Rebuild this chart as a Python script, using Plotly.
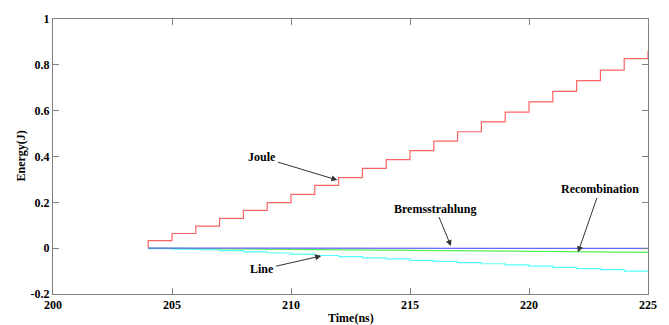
import plotly.graph_objects as go

time_ns = [204, 205, 206, 207, 208, 209, 210, 211, 212, 213, 214, 215,
           216, 217, 218, 219, 220, 221, 222, 223, 224, 225]
joule = [0.033, 0.064, 0.096, 0.130, 0.165, 0.199, 0.235, 0.274, 0.308, 0.348, 0.386,
         0.426, 0.467, 0.508, 0.551, 0.594, 0.638, 0.684, 0.731, 0.777, 0.827, 0.860]
line_rad = [-0.002, -0.004, -0.007, -0.011, -0.016, -0.021, -0.026, -0.032, -0.037, -0.042,
            -0.047, -0.053, -0.058, -0.063, -0.068, -0.073, -0.078, -0.084, -0.089, -0.094,
            -0.100, -0.104]
bremsstrahlung = [0.000, 0.000, 0.000, 0.000, 0.000, 0.000, -0.001, -0.001, -0.001, -0.001,
                  -0.001, -0.001, -0.001, -0.001, -0.001, -0.001, -0.001, -0.001, -0.001,
                  -0.001, -0.001, -0.001]
recombination = [0.000, -0.001, -0.002, -0.003, -0.003, -0.004, -0.005, -0.006, -0.007, -0.008,
                 -0.008, -0.009, -0.010, -0.011, -0.012, -0.013, -0.013, -0.014, -0.015,
                 -0.016, -0.017, -0.018]

x_ticks = [200, 205, 210, 215, 220, 225]
y_ticks = [-0.2, 0, 0.2, 0.4, 0.6, 0.8, 1]
y_tick_text = ["-0.2", "0", "0.2", "0.4", "0.6", "0.8", "1"]

FONT = "Liberation Serif, Times New Roman, serif"

fig = go.Figure()
start_x = [time_ns[0]] + time_ns
fig.add_trace(go.Scatter(x=start_x, y=[0] + joule, mode="lines", line_shape="hv",
                         line=dict(color="#ff6464", width=1.2), name="Joule"))
fig.add_trace(go.Scatter(x=start_x, y=[0] + line_rad, mode="lines", line_shape="hv",
                         line=dict(color="#55ffff", width=1.2), name="Line"))
fig.add_trace(go.Scatter(x=start_x, y=[0] + recombination, mode="lines",
                         line=dict(color="#55ee55", width=1.2), name="Recombination"))
fig.add_trace(go.Scatter(x=start_x, y=[0] + bremsstrahlung, mode="lines",
                         line=dict(color="#6464ff", width=1.2), name="Bremsstrahlung"))

ann_font = dict(family=FONT, size=12, color="black", weight="bold")
annots = [
    ("Joule", 211.95, 0.297, 208.8, 0.396),
    ("Line", 211.27, -0.034, 208.8, -0.092),
    ("Bremsstrahlung", 216.72, 0.009, 216.07, 0.173),
    ("Recombination", 222.06, -0.018, 222.98, 0.257),
]
for text, x, y, ax, ay in annots:
    fig.add_annotation(x=x, y=y, ax=ax, ay=ay, xref="x", yref="y", axref="x", ayref="y",
                       text=text, showarrow=True, arrowhead=2, arrowsize=1.2,
                       arrowwidth=1, arrowcolor="#333333", font=ann_font)

fig.add_annotation(text="Time(ns)", xref="paper", yref="paper", x=0.5, y=0,
                   yshift=-24, yanchor="middle", showarrow=False, font=ann_font)
fig.add_annotation(text="Energy(J)", xref="paper", yref="paper", x=0, y=0.5,
                   xshift=-33, textangle=-90, xanchor="center", showarrow=False,
                   font=ann_font)

axis_common = dict(showgrid=False, zeroline=False, showline=True, linecolor="#808080",
                   linewidth=1, mirror="ticks", ticks="inside", ticklen=6,
                   tickcolor="#808080", tickwidth=1,
                   tickfont=dict(family=FONT, size=12, color="black", weight="bold"))

fig.update_layout(
    width=669, height=325,
    margin=dict(l=53, r=20, t=15, b=31),
    paper_bgcolor="white", plot_bgcolor="white",
    showlegend=False,
    font=dict(family=FONT),
    xaxis=dict(range=[200, 225], tickvals=x_ticks, ticktext=[str(v) for v in x_ticks],
               **axis_common),
    yaxis=dict(range=[-0.2, 1], tickvals=y_ticks, ticktext=y_tick_text, **axis_common),
)

fig.write_html("out.html")
